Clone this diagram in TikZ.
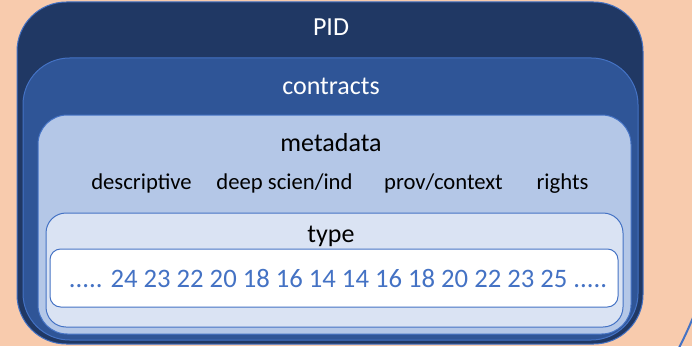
\documentclass[tikz,border=0pt]{standalone}
\usepackage{fontspec}
\setmainfont{Carlito}
\usetikzlibrary{fit}
\definecolor{peach}{HTML}{F8CBAD}
\definecolor{navy}{HTML}{203864}
\definecolor{midblue}{HTML}{2F5597}
\definecolor{lightblue}{HTML}{B4C7E7}
\definecolor{paleblue}{HTML}{DAE3F3}
\definecolor{accent}{HTML}{4472C4}
\tikzset{
  layer/.style={draw=accent, line width=0.75pt, inner sep=0pt, outer sep=0pt},
  bigtxt/.style={font=\fontsize{19.5}{22}\selectfont, anchor=base, inner sep=0pt},
  subtxt/.style={font=\fontsize{17}{20}\selectfont, anchor=base, inner sep=0pt, text=black},
}
\begin{document}
\begin{tikzpicture}[x=0.75pt,y=-0.75pt]
\useasboundingbox (0,0) rectangle (692,346);
\fill[peach] (0,0) rectangle (692,346);
\draw[accent, line width=1.5pt] (277,144) circle[radius=338pt];
\node[layer, fill=navy, rounded corners=37pt, fit={(17,2) (643,344)}] (pid) {};
\node[layer, fill=midblue, rounded corners=35pt, fit={(23,58) (638,340)}] (contracts) {};
\node[layer, fill=lightblue, rounded corners=22pt, fit={(38,115) (631,334)}] (metadata) {};
\node[layer, fill=paleblue, rounded corners=15pt, fit={(46,213) (623,327)}] (type) {};
\node[layer, fill=white, rounded corners=8pt, fit={(50,249) (618,307)}] (values) {};
\node[bigtxt, text=white] (pidlbl) at (331,36) {PID};
\node[bigtxt, text=white] (conlbl) at (331,94) {contracts};
\node[bigtxt, text=black] (metalbl) at (331,151) {metadata};
\node[subtxt] (desc) at (141.5,189) {descriptive};
\node[subtxt] (deep) at (284.5,189) {deep scien/ind};
\node[subtxt] (prov) at (443.5,189) {prov/context};
\node[subtxt] (rights) at (562.5,189) {rights};
\node[bigtxt, text=black] (typelbl) at (331,242) {type};
\node[bigtxt, text=accent, font=\fontsize{20}{24}\selectfont] (nums) at (338,287) {..... 24 23 22 20 18 16 14 14 16 18 20 22 23 25 .....};
\end{tikzpicture}
\end{document}
